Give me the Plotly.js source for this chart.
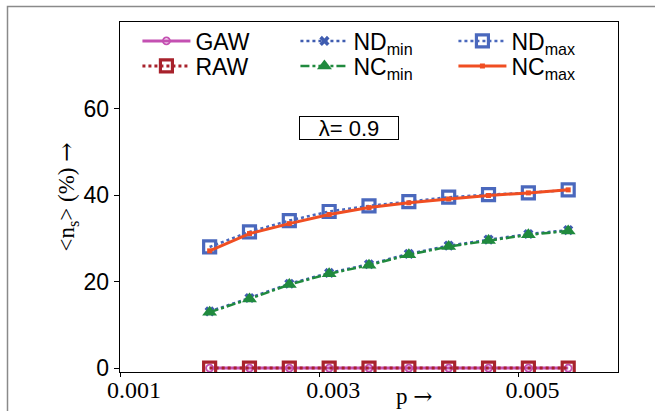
<!DOCTYPE html>
<html>
<head>
<meta charset="utf-8">
<script src="https://cdn.plot.ly/plotly-3.0.1.min.js"></script>
<style>html,body{margin:0;padding:0;background:#fff;}#chart{width:655px;height:411px;}</style>
</head>
<body>
<div id="chart"></div>
<script>
// ---- data ----
const p = [0.0019, 0.0023, 0.0027, 0.0031, 0.0035, 0.0039, 0.0043, 0.0047, 0.0051, 0.0055];
const GAW   = [0, 0, 0, 0, 0, 0, 0, 0, 0, 0];
const RAW   = [0, 0, 0, 0, 0, 0, 0, 0, 0, 0];
const NDmin = [13.1, 16.2, 19.5, 22.0, 24.0, 26.4, 28.3, 29.7, 31.0, 31.9];
const NCmin = [12.9, 16.0, 19.3, 21.8, 23.8, 26.2, 28.1, 29.5, 30.8, 31.7];
const NDmax = [28.0, 31.5, 34.1, 36.2, 37.5, 38.5, 39.5, 40.1, 40.5, 41.2];
const NCmax = [27.1, 31.1, 33.4, 35.5, 37.1, 38.2, 39.1, 39.9, 40.5, 41.2];
const yTicks = [0, 20, 40, 60];
const xTicks = [0.001, 0.003, 0.005];
const xTickText = ['0.001', '0.003', '0.005'];

const sans = 'Liberation Sans, Arial, sans-serif';
const serif = 'Liberation Serif, Times New Roman, serif';
const arrow = '<span style="font-family:DejaVu Serif">→</span>';

function tr(name, y, color, dash, width, symbol, msize, mline, rank, leg) {
  return {
    x: p, y: y, name: name, type: 'scatter', mode: 'lines+markers',
    line: {color: color, dash: dash, width: width},
    marker: {symbol: symbol, size: msize, color: color,
             line: {color: color, width: mline}},
    legendrank: rank, legend: leg
  };
}

const traces = [
  tr('GAW', GAW, '#c450b2', 'solid', 3, 'circle-open', 7, 1.8, 1, 'legend'),
  tr('RAW', RAW, '#a8222c', 'dot', 3, 'square-open', 12, 3.2, 1, 'legend2'),
  tr('ND<sub>min</sub>', NDmin, '#3f5cb0', 'dot', 2.5, 'x', 9, 0, 2, 'legend'),
  tr('NC<sub>min</sub>', NCmin, '#208a3e', 'dashdot', 2.5, 'triangle-up', 13, 0, 2, 'legend2'),
  tr('ND<sub>max</sub>', NDmax, '#4a68bd', 'dot', 2.5, 'square-open', 12, 3.2, 3, 'legend'),
  tr('NC<sub>max</sub>', NCmax, '#f04e22', 'solid', 3, 'square', 5, 0, 3, 'legend2')
];

function legendRow(yPix) {
  return {
    orientation: 'h', x: 0.035, xanchor: 'left',
    y: 1 - (yPix - 22) / 350, yanchor: 'middle',
    entrywidth: 95, entrywidthmode: 'pixels', itemwidth: 48,
    traceorder: 'normal', bgcolor: 'rgba(0,0,0,0)',
    font: {family: sans, size: 23, color: '#000'}
  };
}

const layout = {
  width: 655, height: 411,
  margin: {l: 120, r: 37, t: 22, b: 39, autoexpand: false},
  paper_bgcolor: '#fff', plot_bgcolor: '#fff',
  showlegend: true,
  legend: legendRow(41),
  legend2: legendRow(66),
  xaxis: {
    range: [0.001, 0.006], tickvals: xTicks, ticktext: xTickText,
    ticks: 'outside', ticklen: 4, tickwidth: 1, tickcolor: '#000',
    ticklabelshift: 14, ticklabelstandoff: -8,
    tickfont: {family: serif, size: 24, color: '#000'},
    showline: true, linecolor: '#000', linewidth: 1.3, mirror: true,
    showgrid: false, zeroline: false
  },
  yaxis: {
    range: [-0.9, 80], tickvals: yTicks,
    ticks: 'outside', ticklen: 5, tickwidth: 1, tickcolor: '#000',
    tickfont: {family: sans, size: 23, color: '#000'},
    showline: true, linecolor: '#000', linewidth: 1.3, mirror: true,
    showgrid: false, zeroline: false,
    title: {text: '&lt;n<sub>s</sub>&gt; (%) ' + arrow, font: {family: serif, size: 23, color: '#000'}, standoff: 2}
  },
  annotations: [
    {text: 'λ= 0.9', xref: 'paper', yref: 'paper',
     x: (349 - 120) / 498, y: 1 - (128 - 22) / 350, xanchor: 'center', yanchor: 'middle',
     showarrow: false, font: {family: sans, size: 22, color: '#000'},
     bordercolor: '#000', borderwidth: 1, borderpad: 1, bgcolor: '#fff', width: 96, height: 20},
    {text: 'p ' + arrow, xref: 'paper', yref: 'paper',
     x: (414 - 120) / 498, y: -(396 - 372) / 350, xanchor: 'center', yanchor: 'middle',
     showarrow: false, font: {family: serif, size: 23, color: '#000'}}
  ],
  shapes: [
    {type: 'path', xref: 'paper', yref: 'paper',
     path: 'M ' + ((7.5 - 120) / 498) + ',-0.2 L ' + ((7.5 - 120) / 498) + ',' + (1 + (22 - 6.5) / 350) + ' L 1.2,' + (1 + (22 - 6.5) / 350),
     line: {color: '#8a8a8a', width: 1.5}}
  ]
};

Plotly.newPlot('chart', traces, layout, {displayModeBar: false, staticPlot: true});
</script>
</body>
</html>
